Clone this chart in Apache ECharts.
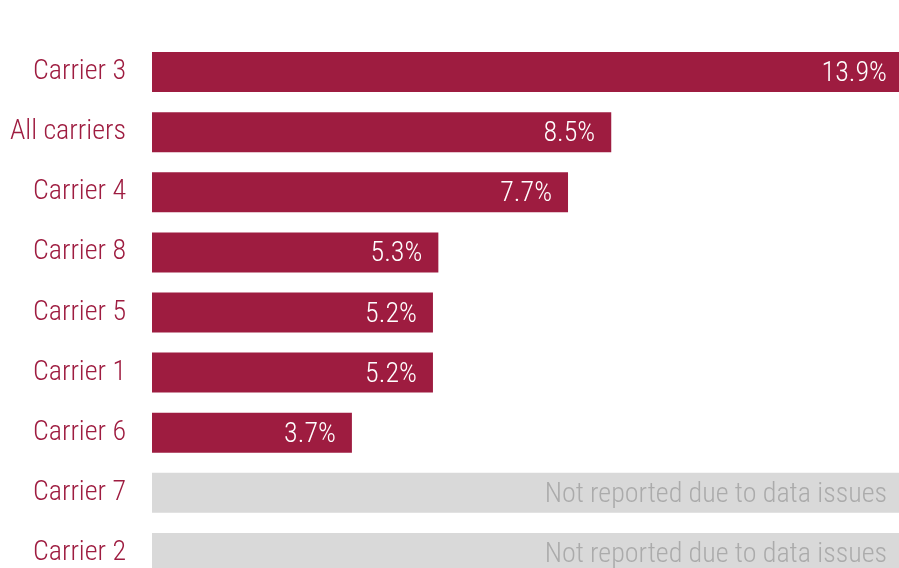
<!DOCTYPE html>
<html>
<head>
<meta charset="utf-8">
<script src="https://cdn.jsdelivr.net/npm/echarts@6/dist/echarts.min.js"></script>
<style>
  html, body { margin: 0; padding: 0; background: #ffffff; }
  #chart { width: 899px; height: 568px; }
</style>
</head>
<body>
<div id="chart"></div>
<script>
// Categories, top to bottom
const categories = ['Carrier 3', 'All carriers', 'Carrier 4', 'Carrier 8', 'Carrier 5', 'Carrier 1', 'Carrier 6', 'Carrier 7', 'Carrier 2'];
// Reported rates (%); null where not reported
const rates = [13.9, 8.5, 7.7, 5.3, 5.2, 5.2, 3.7, null, null];
// Carriers with no reported rate
const notReported = [false, false, false, false, false, false, false, true, true];
const notReportedText = 'Not reported due to data issues';
const axisMax = 13.9;

// Prefer a condensed face when one is installed
function pickFont() {
  const ctx = document.createElement('canvas').getContext('2d');
  const sample = 'Carrier 3 Not reported';
  ctx.font = '28px monospace';
  const base = ctx.measureText(sample).width;
  const candidates = ['Liberation Sans Narrow', 'Roboto Condensed', 'DejaVu Sans Condensed', 'Open Sans Condensed', 'Arial Narrow', 'Noto Sans Condensed'];
  for (const c of candidates) {
    ctx.font = '28px "' + c + '", monospace';
    if (Math.abs(ctx.measureText(sample).width - base) > 0.5) return { family: '"' + c + '"', size: 28 };
  }
  return { family: '"Liberation Sans", Arial, sans-serif', size: 25 };
}
const F = pickFont();
const WEIGHT = 300;
const RED = '#9e1c40';
const GREY_BAR = '#d9d9d9';
const GREY_TEXT = '#ababab';

const placeholder = notReported.map(f => (f ? axisMax : null));

const chart = echarts.init(document.getElementById('chart'), null, { renderer: 'canvas' });
chart.setOption({
  animation: false,
  backgroundColor: '#ffffff',
  grid: { left: 152, top: 42, width: 751, height: 541, containLabel: false, outerBoundsMode: 'none' },
  xAxis: {
    type: 'value', min: 0, max: axisMax,
    show: false
  },
  yAxis: {
    type: 'category', data: categories, inverse: true,
    axisLine: { show: false }, axisTick: { show: false }, splitLine: { show: false },
    axisLabel: {
      color: RED, fontFamily: F.family, fontSize: F.size, fontWeight: WEIGHT,
      margin: 26, padding: [4, 0, 0, 0]
    }
  },
  series: [
    {
      type: 'bar', data: placeholder, barWidth: 40, barGap: '-100%',
      itemStyle: { color: GREY_BAR },
      label: {
        show: true, position: 'insideRight', distance: 16, offset: [0, 2],
        formatter: () => notReportedText,
        color: GREY_TEXT, fontFamily: F.family, fontSize: F.size, fontWeight: WEIGHT
      },
      silent: true
    },
    {
      type: 'bar', data: rates, barWidth: 40, barGap: '-100%',
      itemStyle: { color: RED },
      label: {
        show: true, position: 'insideRight', distance: 16, offset: [0, 2],
        formatter: p => p.value.toFixed(1) + '%',
        color: '#ffffff', fontFamily: F.family, fontSize: F.size, fontWeight: WEIGHT
      }
    }
  ]
});
</script>
</body>
</html>
